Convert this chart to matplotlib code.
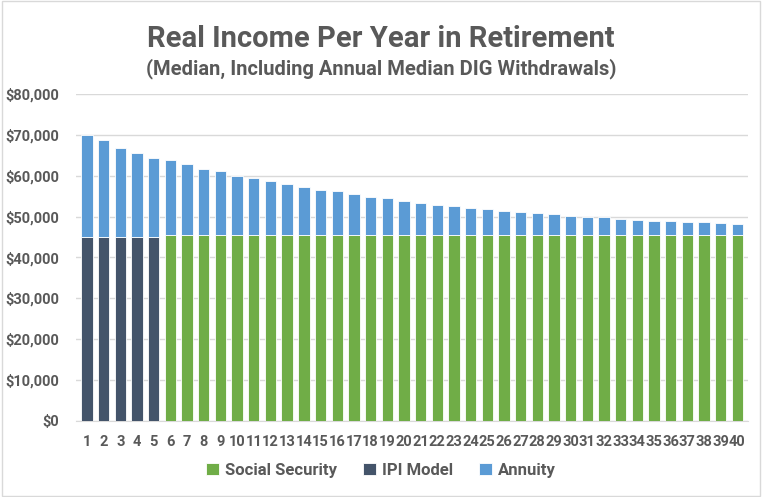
import matplotlib
matplotlib.use("Agg")
import matplotlib.pyplot as plt
import numpy as np
from matplotlib.ticker import FuncFormatter
from matplotlib.patches import Rectangle

plt.rcParams['font.family'] = ['Liberation Sans Narrow', 'Roboto', 'DejaVu Sans']

# ------------------------------------------------
# DATA
# ------------------------------------------------
years = list(range(1, 41))

ipi_model = [45000, 45000, 45000, 45000, 45000] + [0] * 35
social_security = [0] * 5 + [45400] * 35

total_income = [
    70000, 68700, 66850, 65450, 64300, 63850, 62870, 61730, 61070, 59950,
    59370, 58640, 58000, 57180, 56450, 56140, 55570, 54840, 54430, 53770,
    53380, 52890, 52560, 52070, 51750, 51430, 51020, 50850, 50540, 50220,
    49880, 49810, 49490, 49250, 49000, 49000, 48760, 48590, 48350, 48180,
]

series_names = ['Social Security', 'IPI Model', 'Annuity']

# ------------------------------------------------
# PLOT
# ------------------------------------------------
green = '#70AD47'
navy = '#44546A'
blue = '#5B9BD5'
text_grey = '#595959'

base = np.array(ipi_model) + np.array(social_security)
annuity = np.array(total_income) - base

fig = plt.figure(figsize=(7.62, 4.97), dpi=100)
ax = fig.add_axes([0.100, 0.153, 0.882, 0.658])

x = np.array(years)
w = 0.68
ax.bar(x, social_security, width=w, color=green, edgecolor='white', linewidth=0.6,
       label=series_names[0], zorder=3)
ax.bar(x, ipi_model, width=w, color=navy, edgecolor='white', linewidth=0.6,
       label=series_names[1], zorder=3)
ax.bar(x, annuity, width=w, bottom=base, color=blue, edgecolor='white', linewidth=0.6,
       label=series_names[2], zorder=3)

ax.set_ylim(0, 80000)
ax.set_xlim(0.35, 40.65)
ax.set_yticks(np.arange(0, 80001, 10000))
ax.yaxis.set_major_formatter(FuncFormatter(lambda v, p: f'${v:,.0f}'))
ax.set_xticks(x)
ax.set_xticklabels([str(v) for v in years])

ax.grid(axis='y', color='#D9D9D9', linewidth=1, zorder=0)
for s in ['top', 'right', 'left']:
    ax.spines[s].set_visible(False)
ax.spines['bottom'].set_color('#D9D9D9')
ax.tick_params(axis='both', length=0, colors=text_grey)
ax.tick_params(axis='x', pad=10)
ax.tick_params(axis='y', pad=12)
for lbl in ax.get_xticklabels() + ax.get_yticklabels():
    lbl.set_fontsize(10.5)
    lbl.set_fontweight('bold')

fig.text(0.5, 0.922, 'Real Income Per Year in Retirement', ha='center', va='center',
         fontsize=21, fontweight='bold', color=text_grey)
fig.text(0.5, 0.862, '(Median, Including Annual Median DIG Withdrawals)', ha='center',
         va='center', fontsize=14.5, fontweight='bold', color=text_grey)

leg = fig.legend(loc='center', bbox_to_anchor=(0.5, 0.053), ncol=3, frameon=False,
                 handlelength=0.75, handleheight=0.75, handletextpad=0.35,
                 columnspacing=1.6, prop={'size': 12, 'weight': 'bold'})
for t in leg.get_texts():
    t.set_color(text_grey)

# thin border round the chart
fig.patches.append(Rectangle((0.002, 0.003), 0.996, 0.994, transform=fig.transFigure,
                             fill=False, edgecolor='#D9D9D9', linewidth=1))

fig.savefig('out.png', dpi=100)
